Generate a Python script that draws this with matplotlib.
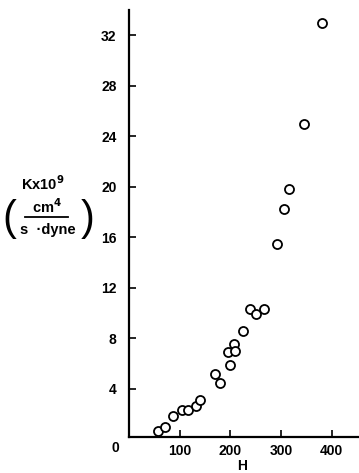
import matplotlib.pyplot as plt

# Dados
H = [57, 72, 87, 105, 117, 132, 141, 170, 179, 196, 199, 207, 210, 226,
     239, 250, 266, 292, 306, 315, 345, 381]
K = [0.70, 1.01, 1.83, 2.33, 2.33, 2.67, 3.15, 5.2, 4.47, 6.89, 5.91, 7.57,
     7.02, 8.62, 10.32, 9.94, 10.32, 15.5, 18.25, 19.8, 24.96, 32.97]

x_ticks = [100, 200, 300, 400]
y_ticks = [4, 8, 12, 16, 20, 24, 28, 32]

plt.rcParams['font.family'] = ['Liberation Sans', 'DejaVu Sans']
plt.rcParams['font.weight'] = 'bold'
plt.rcParams['mathtext.default'] = 'bf'

fig = plt.figure(figsize=(3.59, 4.73), dpi=100)
ax = fig.add_axes([129 / 359, 36 / 473, 230 / 359, 427 / 473])

ax.plot(H, K, 'o', mfc='white', mec='black', ms=6.5, mew=1.3, clip_on=False)

ax.set_xlim(0, 454)
ax.set_ylim(0.2, 34.0)
ax.set_xticks(x_ticks)
ax.set_yticks(y_ticks)
ax.tick_params(direction='in', length=5, width=1.2, labelsize=10)
ax.tick_params(axis='y', pad=9)
ax.tick_params(axis='x', pad=5)
for lab in ax.get_xticklabels() + ax.get_yticklabels():
    lab.set_fontweight('bold')

for s in ['top', 'right']:
    ax.spines[s].set_visible(False)
for s in ['left', 'bottom']:
    ax.spines[s].set_linewidth(1.6)

# "0" na origem
fig.text(115 / 359, 1 - 448 / 473, '0', ha='center', va='center',
         fontsize=10, fontweight='bold')
# rotulo eixo x
fig.text(242 / 359, 1 - 466 / 473, 'H', ha='center', va='center',
         fontsize=10, fontweight='bold')

# rotulo eixo y
fig.text(43 / 359, 1 - 184 / 473, 'Kx10$^{9}$', ha='center', va='center',
         fontsize=10.5, fontweight='bold')
fig.text(47 / 359, 1 - 207 / 473, 'cm$^{4}$', ha='center', va='center',
         fontsize=10.5, fontweight='bold')
fig.add_artist(plt.Line2D([25 / 359, 68 / 359], [1 - 217 / 473, 1 - 217 / 473],
                          color='black', lw=1.3))
fig.text(48 / 359, 1 - 230 / 473, 's  \u00b7dyne', ha='center', va='center',
         fontsize=10.5, fontweight='bold')
fig.text(9 / 359, 1 - 219 / 473, '(', ha='center', va='center',
         fontsize=30, fontweight='light')
fig.text(88 / 359, 1 - 219 / 473, ')', ha='center', va='center',
         fontsize=30, fontweight='light')

plt.savefig('out.png', dpi=100)
